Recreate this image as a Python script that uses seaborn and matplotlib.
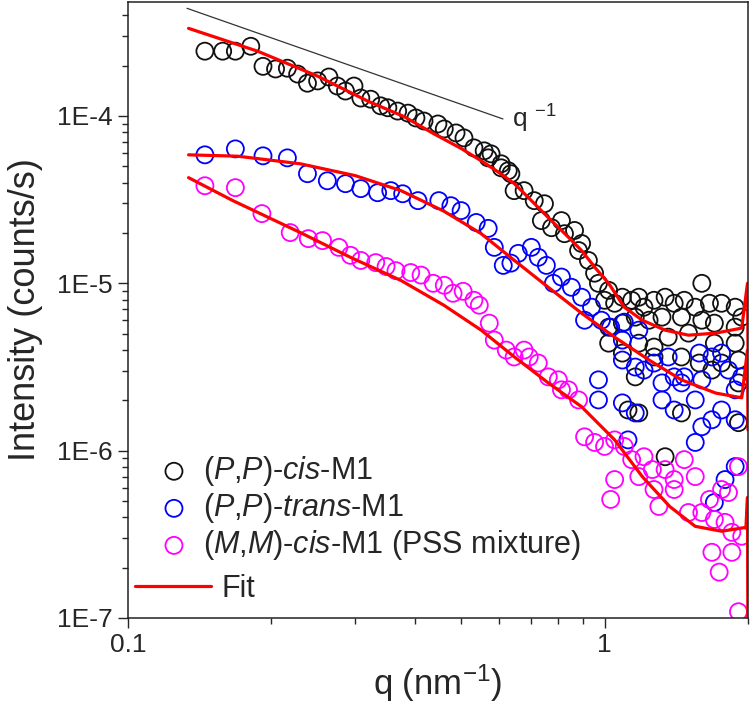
import numpy as np
import pandas as pd
import matplotlib
matplotlib.use("Agg")
import matplotlib.pyplot as plt
import seaborn as sns
from matplotlib.ticker import FixedLocator, FixedFormatter, LogLocator, NullFormatter

# ---- data (q in nm^-1, intensity in counts/s) ----
cis_q = [0.145, 0.158, 0.168, 0.181, 0.192, 0.204, 0.216, 0.227, 0.238, 0.250, 0.264, 0.275,
         0.286, 0.298, 0.308, 0.323, 0.339, 0.351, 0.368, 0.387, 0.402, 0.418, 0.447, 0.461,
         0.488, 0.507, 0.532, 0.559, 0.570, 0.578, 0.607, 0.607, 0.628, 0.636, 0.646, 0.678,
         0.712, 0.748, 0.737, 0.774, 0.812, 0.824, 0.865, 0.895, 0.882, 0.925, 0.953, 0.971,
         1.02, 1.00, 1.05, 1.09, 1.14, 1.18, 1.21, 1.27, 1.34, 1.40, 1.47, 1.60, 1.55, 1.66,
         1.76, 1.88, 1.94, 1.16, 1.24, 1.32, 1.45, 1.60, 1.70, 1.88, 1.09, 1.02, 1.36, 1.50,
         1.70, 1.88, 1.18, 1.27, 1.02, 1.09, 1.27, 1.45, 1.58, 1.76, 1.91, 1.16, 1.91, 1.68,
         1.12, 1.18, 1.45, 1.34, 1.91]
cis_I = [2.44e-4, 2.44e-4, 2.44e-4, 2.61e-4, 1.98e-4, 1.91e-4, 1.93e-4, 1.78e-4, 1.57e-4,
         1.62e-4, 1.71e-4, 1.51e-4, 1.41e-4, 1.51e-4, 1.28e-4, 1.26e-4, 1.15e-4, 1.12e-4,
         1.07e-4, 1.04e-4, 9.73e-5, 9.33e-5, 8.96e-5, 8.37e-5, 7.92e-5, 7.40e-5, 6.45e-5,
         6.19e-5, 5.62e-5, 5.94e-5, 5.18e-5, 4.90e-5, 4.71e-5, 4.52e-5, 3.58e-5, 3.58e-5,
         3.12e-5, 2.99e-5, 2.37e-5, 2.15e-5, 2.37e-5, 1.98e-5, 2.07e-5, 1.73e-5, 1.57e-5,
         1.37e-5, 1.15e-5, 1.00e-5, 9.08e-6, 7.92e-6, 7.60e-6, 8.26e-6, 7.92e-6, 8.26e-6,
         7.20e-6, 7.92e-6, 8.26e-6, 7.60e-6, 7.92e-6, 1.00e-5, 7.20e-6, 7.60e-6, 7.60e-6,
         7.20e-6, 6.28e-6, 6.28e-6, 6.02e-6, 6.28e-6, 6.28e-6, 6.02e-6, 5.78e-6, 5.47e-6,
         5.78e-6, 5.47e-6, 4.77e-6, 5.04e-6, 4.39e-6, 4.39e-6, 4.39e-6, 4.16e-6, 4.39e-6,
         3.83e-6, 3.63e-6, 3.63e-6, 3.34e-6, 3.34e-6, 3.48e-6, 2.76e-6, 2.54e-6, 3.03e-6,
         1.75e-6, 1.68e-6, 1.68e-6, 9.2e-7, 1.47e-6]

trans_q = [0.145, 0.168, 0.192, 0.216, 0.238, 0.262, 0.286, 0.308, 0.334, 0.356, 0.377, 0.406,
           0.449, 0.476, 0.500, 0.538, 0.570, 0.587, 0.613, 0.636, 0.659, 0.702, 0.726, 0.755,
           0.781, 0.812, 0.852, 0.895, 0.939, 0.908, 0.985, 1.03, 1.10, 1.18, 1.09, 1.09, 1.16,
           1.21, 1.27, 1.36, 1.40, 1.47, 1.58, 1.68, 1.76, 1.82, 1.94, 1.60, 1.45, 1.88, 1.32,
           0.971, 0.971, 1.09, 1.16, 1.32, 1.40, 1.55, 1.68, 1.60, 1.76, 1.88, 1.55, 1.79,
           1.88, 1.70, 1.12]
trans_I = [5.86e-5, 6.36e-5, 5.78e-5, 5.62e-5, 4.52e-5, 4.10e-5, 3.94e-5, 3.68e-5, 3.48e-5,
           3.58e-5, 3.43e-5, 3.12e-5, 3.12e-5, 2.91e-5, 2.72e-5, 2.31e-5, 2.13e-5, 1.64e-5,
           1.28e-5, 1.32e-5, 1.51e-5, 1.64e-5, 1.43e-5, 1.28e-5, 1.00e-5, 1.09e-5, 9.47e-6,
           8.26e-6, 7.20e-6, 6.02e-6, 6.02e-6, 5.47e-6, 5.86e-6, 5.25e-6, 4.58e-6, 3.48e-6,
           3.16e-6, 3.03e-6, 3.34e-6, 3.63e-6, 2.76e-6, 2.76e-6, 3.83e-6, 3.63e-6, 3.83e-6,
           3.03e-6, 2.76e-6, 2.65e-6, 2.54e-6, 2.31e-6, 2.54e-6, 2.65e-6, 2.01e-6, 1.93e-6,
           1.68e-6, 2.01e-6, 1.75e-6, 2.01e-6, 1.53e-6, 1.39e-6, 1.75e-6, 1.53e-6, 1.12e-6,
           6.72e-7, 8.03e-7, 4.90e-7, 1.16e-6]

pss_q = [0.145, 0.168, 0.191, 0.219, 0.239, 0.256, 0.277, 0.293, 0.308, 0.331, 0.348, 0.365,
         0.392, 0.412, 0.437, 0.461, 0.481, 0.505, 0.532, 0.546, 0.573, 0.587, 0.622, 0.646,
         0.678, 0.695, 0.726, 0.762, 0.800, 0.840, 0.812, 0.882, 0.908, 0.953, 1.00, 1.05,
         1.10, 1.14, 1.21, 1.26, 1.34, 1.40, 1.47, 1.55, 1.18, 1.05, 1.03, 1.27, 1.30, 1.40,
         1.50, 1.60, 1.66, 1.76, 1.70, 1.79, 1.91, 1.82, 1.94, 1.68, 1.85, 1.74, 1.91, 1.85]
pss_I = [3.83e-5, 3.73e-5, 2.61e-5, 2.01e-5, 1.85e-5, 1.80e-5, 1.64e-5, 1.47e-5, 1.37e-5,
         1.33e-5, 1.26e-5, 1.19e-5, 1.16e-5, 1.12e-5, 1.00e-5, 9.73e-6, 8.72e-6, 8.96e-6,
         7.92e-6, 7.40e-6, 5.78e-6, 4.58e-6, 3.99e-6, 3.63e-6, 3.99e-6, 3.63e-6, 3.34e-6,
         2.76e-6, 2.65e-6, 2.31e-6, 2.31e-6, 2.01e-6, 1.21e-6, 1.12e-6, 1.06e-6, 1.16e-6,
         1.06e-6, 8.84e-7, 9.2e-7, 7.71e-7, 7.71e-7, 6.72e-7, 8.84e-7, 7.00e-7, 7.00e-7,
         6.72e-7, 5.11e-7, 5.86e-7, 4.64e-7, 5.86e-7, 4.27e-7, 4.27e-7, 5.11e-7, 5.86e-7,
         3.88e-7, 3.73e-7, 8.03e-7, 5.62e-7, 3.08e-7, 2.47e-7, 2.47e-7, 1.88e-7, 1.09e-7,
         3.25e-7]

# fitted curves
fit_cis_q = [0.134, 0.187, 0.25, 0.318, 0.380, 0.439, 0.500, 0.551, 0.600, 0.647, 0.700,
             0.762, 0.830, 0.895, 0.960, 1.02, 1.10, 1.20, 1.34, 1.50, 1.71, 1.94, 1.995, 2.0]
fit_cis_I = [3.34e-4, 2.44e-4, 1.73e-4, 1.23e-4, 9.9e-5, 7.81e-5, 6.4e-5, 5.40e-5, 4.6e-5,
             3.94e-5, 3.15e-5, 2.47e-5, 1.95e-5, 1.57e-5, 1.22e-5, 1.00e-5, 7.20e-6, 6.02e-6,
             5.25e-6, 4.90e-6, 5.04e-6, 5.40e-6, 1.0e-5, 4.1e-6]
fit_trans_q = [0.134, 0.170, 0.230, 0.300, 0.374, 0.460, 0.551, 0.647, 0.762, 0.895, 1.05,
               1.24, 1.45, 1.71, 1.94, 1.995, 2.0]
fit_trans_I = [5.86e-5, 5.75e-5, 5.18e-5, 4.40e-5, 3.58e-5, 2.70e-5, 1.98e-5, 1.37e-5,
               9.47e-6, 6.63e-6, 4.77e-6, 3.48e-6, 2.65e-6, 2.21e-6, 2.07e-6, 4.0e-6, 1.33e-6]
fit_pss_q = [0.134, 0.166, 0.230, 0.293, 0.374, 0.460, 0.551, 0.647, 0.762, 0.895, 1.05,
             1.20, 1.37, 1.55, 1.76, 1.98, 1.995, 2.0]
fit_pss_I = [4.28e-5, 3.12e-5, 2.01e-5, 1.43e-5, 1.04e-5, 7.4e-6, 5.25e-6, 3.63e-6, 2.54e-6,
             1.83e-6, 1.16e-6, 7.00e-7, 4.64e-7, 3.53e-7, 3.30e-7, 3.48e-7, 5.25e-7, 5e-8]

# q^-1 guide line
guide_q = [0.133, 0.612]
guide_I = [4.40e-4, 9.6e-5]

labels = [r"($\mathit{P}$,$\mathit{P}$)-$\mathit{cis}$-M1",
          r"($\mathit{P}$,$\mathit{P}$)-$\mathit{trans}$-M1",
          r"($\mathit{M}$,$\mathit{M}$)-$\mathit{cis}$-M1 (PSS mixture)"]
colors = ["#111111", "#0000ff", "#ff00ff"]

sns.set_style("ticks")
plt.rcParams["font.family"] = ["Liberation Sans", "DejaVu Sans"]
plt.rcParams["mathtext.fontset"] = "custom"
plt.rcParams["mathtext.rm"] = "Liberation Sans"
plt.rcParams["mathtext.it"] = "Liberation Sans:italic"

fig = plt.figure(figsize=(7.5, 7.1), dpi=100)
ax = fig.add_axes([128 / 750, 1 - 618 / 710, 620 / 750, 616 / 710])
ax.set_xscale("log")
ax.set_yscale("log")

series = [(cis_q, cis_I), (trans_q, trans_I), (pss_q, pss_I)]
for (q, inten), lab, col in zip(series, labels, colors):
    df = pd.DataFrame({"q": q, "I": inten})
    sns.scatterplot(data=df, x="q", y="I", ax=ax, marker="o", s=150,
                    facecolor="none", edgecolor=col, linewidth=1.3, label=lab)

fits = [(fit_cis_q, fit_cis_I), (fit_trans_q, fit_trans_I), (fit_pss_q, fit_pss_I)]
for i, (q, inten) in enumerate(fits):
    sns.lineplot(x=q, y=inten, ax=ax, sort=False, estimator=None, color="#ff0000",
                 lw=2.3, label="Fit" if i == 0 else None)

ax.plot(guide_q, guide_I, color="#333333", lw=0.9)
ax.text(0.64, 9.6e-5, "q $^{-1}$", fontsize=19, ha="left", va="center")

ax.set_xlim(0.1, 2.0)
ax.set_ylim(1e-7, 4.8e-4)

ax.xaxis.set_major_locator(FixedLocator([0.1, 1]))
ax.xaxis.set_major_formatter(FixedFormatter(["0.1", "1"]))
ax.xaxis.set_minor_locator(LogLocator(base=10, subs=np.arange(2, 10)))
ax.xaxis.set_minor_formatter(NullFormatter())
ax.yaxis.set_major_locator(FixedLocator([1e-7, 1e-6, 1e-5, 1e-4]))
ax.yaxis.set_major_formatter(FixedFormatter(["1E-7", "1E-6", "1E-5", "1E-4"]))
ax.yaxis.set_minor_locator(LogLocator(base=10, subs=np.arange(2, 10)))
ax.yaxis.set_minor_formatter(NullFormatter())
ax.tick_params(which="major", length=7, width=1.0, labelsize=19, pad=4, direction="out")
ax.tick_params(which="minor", length=4, width=1.0, direction="out")
for sp in ax.spines.values():
    sp.set_linewidth(1.1)
    sp.set_color("#222222")

ax.set_xlabel("q (nm$^{-1}$)", fontsize=25)
ax.set_ylabel("Intensity (counts/s)", fontsize=26)
ax.xaxis.set_label_coords(0.5, -0.072)
ax.yaxis.set_label_coords(-0.137, 0.5)

handles, labs = ax.get_legend_handles_labels()
leg1 = ax.legend(handles[:3], labs[:3], loc="center left", bbox_to_anchor=(0.0495, 0.178),
                 frameon=False, fontsize=22, borderpad=0, borderaxespad=0,
                 handlelength=1.0, handletextpad=0.45, labelspacing=0.1)
ax.add_artist(leg1)
ax.legend(handles[3:], labs[3:], loc="center left", bbox_to_anchor=(0.0113, 0.047),
          frameon=False, fontsize=22, borderpad=0, borderaxespad=0,
          handlelength=2.48, handletextpad=0.36)

fig.savefig("out.png", dpi=100)
